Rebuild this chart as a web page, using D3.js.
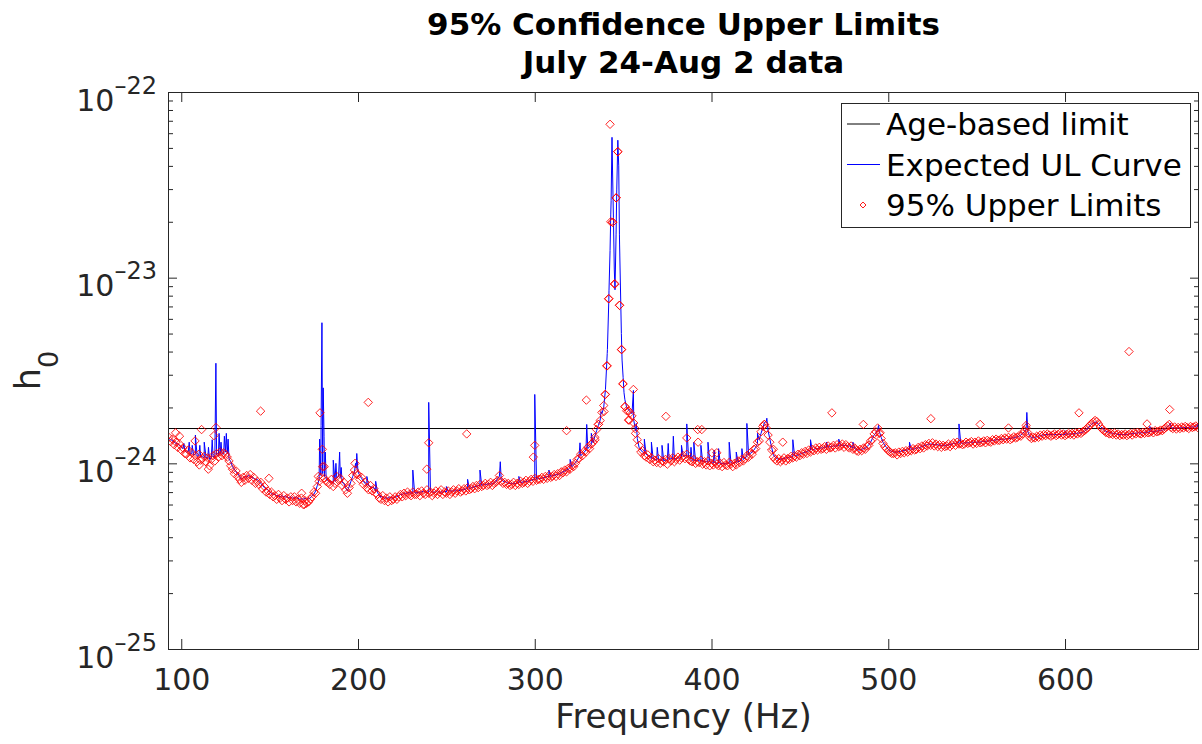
<!DOCTYPE html>
<html>
<head>
<meta charset="utf-8">
<script src="https://cdnjs.cloudflare.com/ajax/libs/d3/7.8.5/d3.min.js"></script>
<style>
  body { margin: 0; background: #fff; }
  svg { font-family: "DejaVu Sans", sans-serif; }
</style>
</head>
<body>
<div id="chart"></div>
<script>
// h0 values below are in units of 1e-24
const unit = 1e-24;
const freqStart = 93; // Hz, first bin, bins 1 Hz apart

// Expected UL curve (baseline per bin)
const expectedUL = [
  /*93*/  1.36,1.34,1.33,1.30,1.28,1.27,1.25,1.22,1.20,1.17,
  /*103*/ 1.15,1.16,1.12,1.13,1.11,1.12,1.09,1.10,1.08,1.09,
  /*113*/ 1.07,1.08,1.06,1.05,1.07,1.09,1.08,1.11,1.10,1.12,
  /*123*/ 1.13,1.12,1.15,1.13,1.06,1.02,0.96,0.93,0.90,0.88,
  /*133*/ 0.85,0.82,0.83,0.85,0.84,0.86,0.85,0.84,0.83,0.82,
  /*143*/ 0.82,0.80,0.78,0.76,0.74,0.73,0.72,0.70,0.69,0.68,
  /*153*/ 0.68,0.67,0.67,0.66,0.67,0.66,0.66,0.66,0.65,0.66,
  /*163*/ 0.65,0.65,0.66,0.65,0.64,0.645,0.64,0.65,0.64,0.645,
  /*173*/ 0.65,0.67,0.68,0.71,0.76,0.82,0.86,0.88,0.85,0.82,
  /*183*/ 0.81,0.79,0.80,0.78,0.80,0.83,0.85,0.84,0.79,0.78,
  /*193*/ 0.74,0.71,0.75,0.80,0.85,0.90,0.94,0.90,0.86,0.83,
  /*203*/ 0.80,0.78,0.76,0.76,0.75,0.74,0.74,0.71,0.70,0.67,
  /*213*/ 0.66,0.66,0.65,0.65,0.65,0.66,0.65,0.65,0.66,0.66,
  /*223*/ 0.67,0.68,0.68,0.69,0.69,0.69,0.70,0.69,0.69,0.70,
  /*233*/ 0.69,0.70,0.70,0.70,0.71,0.70,0.70,0.70,0.71,0.70,
  /*243*/ 0.70,0.70,0.71,0.70,0.70,0.70,0.71,0.70,0.71,0.71,
  /*253*/ 0.71,0.71,0.71,0.72,0.71,0.72,0.72,0.72,0.73,0.73,
  /*263*/ 0.73,0.74,0.74,0.75,0.75,0.76,0.76,0.76,0.77,0.77,
  /*273*/ 0.77,0.78,0.77,0.78,0.78,0.80,0.83,0.85,0.82,0.80,
  /*283*/ 0.80,0.79,0.78,0.78,0.78,0.78,0.78,0.78,0.79,0.79,
  /*293*/ 0.79,0.80,0.80,0.80,0.81,0.81,0.82,0.82,0.82,0.83,
  /*303*/ 0.83,0.83,0.84,0.84,0.85,0.85,0.85,0.86,0.86,0.87,
  /*313*/ 0.87,0.88,0.89,0.90,0.91,0.92,0.93,0.95,0.96,0.98,
  /*323*/ 1.01,1.04,1.08,1.10,1.12,1.15,1.18,1.20,1.23,1.26,
  /*333*/ 1.29,1.40,1.50,1.60,1.71,1.85,2.00,2.50,3.90,8.50,
  /*343*/ 22,38,11,17,55,15,5.0,2.9,2.2,2.0,
  /*353*/ 1.94,1.90,1.85,1.71,1.50,1.36,1.22,1.18,1.15,1.13,
  /*363*/ 1.12,1.10,1.08,1.06,1.06,1.05,1.04,1.05,1.04,1.04,
  /*373*/ 1.03,1.04,1.04,1.05,1.06,1.06,1.05,1.06,1.07,1.07,
  /*383*/ 1.08,1.09,1.10,1.10,1.08,1.06,1.04,1.04,1.03,1.04,
  /*393*/ 1.03,1.03,1.02,1.03,1.02,1.02,1.02,1.01,1.00,1.01,
  /*403*/ 1.00,1.00,0.99,1.00,1.00,0.99,1.00,1.00,1.01,1.00,
  /*413*/ 1.01,1.01,1.02,1.03,1.04,1.05,1.07,1.09,1.11,1.13,
  /*423*/ 1.15,1.18,1.22,1.28,1.34,1.45,1.55,1.66,1.68,1.50,
  /*433*/ 1.35,1.22,1.11,1.08,1.06,1.05,1.05,1.06,1.06,1.07,
  /*443*/ 1.07,1.08,1.08,1.09,1.10,1.10,1.11,1.12,1.13,1.14,
  /*453*/ 1.15,1.16,1.17,1.18,1.18,1.19,1.20,1.20,1.21,1.21,
  /*463*/ 1.21,1.22,1.22,1.22,1.23,1.23,1.24,1.24,1.24,1.25,
  /*473*/ 1.25,1.25,1.25,1.25,1.24,1.24,1.23,1.21,1.20,1.19,
  /*483*/ 1.18,1.18,1.19,1.20,1.21,1.23,1.26,1.30,1.36,1.42,
  /*493*/ 1.46,1.52,1.48,1.38,1.30,1.25,1.22,1.19,1.17,1.16,
  /*503*/ 1.15,1.15,1.15,1.16,1.16,1.17,1.17,1.18,1.18,1.19,
  /*513*/ 1.19,1.19,1.20,1.21,1.21,1.22,1.23,1.24,1.25,1.26,
  /*523*/ 1.27,1.27,1.27,1.26,1.26,1.26,1.25,1.25,1.25,1.25,
  /*533*/ 1.25,1.26,1.26,1.27,1.28,1.28,1.29,1.29,1.29,1.28,
  /*543*/ 1.29,1.29,1.29,1.29,1.30,1.30,1.30,1.30,1.30,1.30,
  /*553*/ 1.31,1.31,1.31,1.32,1.32,1.32,1.33,1.33,1.34,1.34,
  /*563*/ 1.34,1.35,1.35,1.35,1.36,1.36,1.36,1.37,1.37,1.38,
  /*573*/ 1.39,1.40,1.42,1.45,1.48,1.52,1.48,1.40,1.38,1.37,
  /*583*/ 1.38,1.39,1.40,1.41,1.42,1.42,1.43,1.43,1.43,1.43,
  /*593*/ 1.43,1.43,1.43,1.43,1.43,1.43,1.43,1.43,1.43,1.44,
  /*603*/ 1.44,1.44,1.44,1.45,1.45,1.46,1.46,1.47,1.49,1.52,
  /*613*/ 1.55,1.59,1.62,1.65,1.67,1.66,1.62,1.58,1.55,1.52,
  /*623*/ 1.49,1.48,1.47,1.46,1.45,1.45,1.44,1.43,1.43,1.43,
  /*633*/ 1.43,1.43,1.43,1.44,1.44,1.45,1.45,1.45,1.46,1.46,
  /*643*/ 1.46,1.46,1.47,1.47,1.47,1.48,1.48,1.48,1.49,1.49,
  /*653*/ 1.50,1.50,1.51,1.52,1.55,1.58,1.60,1.57,1.55,1.55,
  /*663*/ 1.55,1.55,1.55,1.56,1.56,1.56,1.56,1.56,1.57,1.57,
  /*673*/ 1.57,1.57,1.57,1.57
];

// narrow lines in the expected curve (off-grid bins)
const expSpikeFreq = [
  101.5,104.5,106.2,108,110.5,113,115.4,117.5,119.6,121.4,122.5,124.4,125.5,126.5,
  178.3,179.1,179.6,180.3,180.8,181.5,186,187.5,189.6,190.5,198.6,199.3,205,210,
  231,240,250,262,269,280.5,291,300,308,320,325.6,329.4,332,337.5,
  341.1,341.9,342.6,343.2,343.7,344.5,345.4,346.4,347.5,347.9,348.7,349.4,350.5,
  355.8,357.5,362,366,369.3,372,375.5,378.4,383,386,388.4,390,394,398,401.5,404,410,414,417.2,420,426,431.3,
  446,456,465,472,480,494.5,512,540,578.4,600,648,659.5,675
];
const expSpikeVal = [
  1.28,1.30,1.25,1.42,1.25,1.30,1.22,1.34,3.46,1.45,1.30,1.40,1.45,1.35,
  1.35,1.60,5.72,2.55,1.40,1.15,1.04,1.00,1.15,0.95,1.00,1.13,0.85,0.80,
  0.92,2.13,0.75,0.82,0.92,1.02,0.85,2.35,0.92,1.05,1.29,1.62,1.45,1.90,
  4.1,7.6,14,26,57,21,8.6,30,40,17,7.0,3.6,2.4,
  2.47,1.64,1.35,1.30,1.22,1.25,1.28,1.40,1.25,1.63,1.22,1.30,1.25,1.30,1.18,1.20,1.30,1.15,1.20,1.64,1.45,1.75,
  1.34,1.34,1.30,1.35,1.30,1.60,1.30,1.63,1.88,1.50,1.58,1.65,1.62
];

// 95% upper limits per bin
const upperLimits = [
  /*93*/  1.38,1.31,1.35,1.26,1.30,1.22,1.27,1.18,1.21,1.13,
  /*103*/ 1.12,1.18,1.07,1.14,1.05,1.10,1.02,1.12,1.04,1.06,
  /*113*/ 1.09,1.02,1.07,0.97,1.05,1.10,1.03,1.13,1.08,1.15,
  /*123*/ 1.10,1.14,1.12,1.08,1.03,0.97,0.93,0.88,0.91,0.85,
  /*133*/ 0.82,0.79,0.84,0.81,0.86,0.83,0.87,0.81,0.84,0.78,
  /*143*/ 0.80,0.77,0.79,0.73,0.75,0.70,0.71,0.68,0.70,0.66,
  /*153*/ 0.67,0.64,0.68,0.65,0.63,0.67,0.64,0.65,0.62,0.66,
  /*163*/ 0.63,0.66,0.62,0.64,0.61,0.65,0.60,0.63,0.61,0.62,
  /*173*/ 0.64,0.66,0.70,0.69,0.75,0.80,0.84,0.96,0.83,0.80,
  /*183*/ 0.79,0.77,0.82,0.75,0.78,0.85,0.81,0.83,0.76,0.79,
  /*193*/ 0.72,0.69,0.74,0.78,0.86,0.92,0.88,0.87,0.82,0.84,
  /*203*/ 0.77,0.79,0.74,0.72,0.76,0.71,0.73,0.69,0.68,0.65,
  /*213*/ 0.64,0.67,0.63,0.65,0.62,0.66,0.63,0.64,0.66,0.64,
  /*223*/ 0.66,0.68,0.66,0.69,0.67,0.70,0.68,0.67,0.70,0.68,
  /*233*/ 0.68,0.70,0.67,0.71,0.69,0.68,0.72,0.69,0.70,0.67,
  /*243*/ 0.69,0.71,0.68,0.70,0.72,0.68,0.70,0.69,0.71,0.68,
  /*253*/ 0.70,0.72,0.69,0.71,0.73,0.70,0.71,0.73,0.71,0.74,
  /*263*/ 0.72,0.73,0.75,0.73,0.76,0.74,0.77,0.75,0.76,0.78,
  /*273*/ 0.76,0.77,0.79,0.76,0.78,0.79,0.81,0.86,0.80,0.78,
  /*283*/ 0.79,0.77,0.78,0.76,0.77,0.79,0.76,0.78,0.77,0.80,
  /*293*/ 0.78,0.79,0.81,0.78,0.80,0.82,0.80,0.83,0.81,0.82,
  /*303*/ 0.82,0.84,0.82,0.85,0.83,0.86,0.84,0.85,0.87,0.85,
  /*313*/ 0.88,0.86,0.90,0.89,0.92,0.90,0.94,0.93,0.97,0.96,
  /*323*/ 1.00,1.05,1.06,1.12,1.10,1.16,1.15,1.22,1.20,1.27,
  /*333*/ 1.30,1.38,1.52,1.62,1.70,1.88,2.05,2.35,3.35,7.70,
  /*343*/ 20,19.9,9.25,26.9,47.7,7.1,4.1,2.68,2.02,1.92,
  /*353*/ 1.71,1.87,1.80,1.65,1.45,1.34,1.25,1.15,1.17,1.10,
  /*363*/ 1.08,1.11,1.05,1.07,1.02,1.04,1.01,1.06,1.00,1.03,
  /*373*/ 1.02,1.05,0.99,1.06,1.03,1.07,1.02,1.05,1.08,1.04,
  /*383*/ 1.07,1.10,1.06,1.12,1.05,1.03,1.02,1.05,1.00,1.02,
  /*393*/ 1.01,1.04,0.99,1.02,0.98,1.03,0.97,1.00,0.98,1.02,
  /*403*/ 0.99,0.97,1.00,0.96,1.01,0.98,0.97,1.01,0.99,0.96,
  /*413*/ 1.00,0.98,1.03,1.01,1.05,1.03,1.06,1.10,1.08,1.14,
  /*423*/ 1.12,1.19,1.20,1.30,1.32,1.48,1.58,1.62,1.55,1.42,
  /*433*/ 1.30,1.18,1.08,1.05,1.03,1.06,1.02,1.04,1.07,1.03,
  /*443*/ 1.06,1.05,1.09,1.07,1.10,1.08,1.12,1.10,1.14,1.12,
  /*453*/ 1.16,1.13,1.18,1.15,1.19,1.17,1.21,1.18,1.22,1.19,
  /*463*/ 1.20,1.23,1.19,1.24,1.21,1.22,1.25,1.21,1.26,1.23,
  /*473*/ 1.24,1.27,1.22,1.26,1.23,1.21,1.24,1.19,1.21,1.17,
  /*483*/ 1.16,1.19,1.17,1.21,1.19,1.24,1.25,1.32,1.34,1.44,
  /*493*/ 1.48,1.55,1.45,1.36,1.28,1.23,1.20,1.17,1.15,1.13,
  /*503*/ 1.13,1.14,1.11,1.15,1.13,1.16,1.14,1.17,1.15,1.18,
  /*513*/ 1.17,1.20,1.18,1.19,1.22,1.20,1.24,1.21,1.26,1.24,
  /*523*/ 1.28,1.25,1.29,1.24,1.27,1.23,1.26,1.22,1.25,1.23,
  /*533*/ 1.24,1.27,1.23,1.26,1.29,1.25,1.30,1.27,1.28,1.26,
  /*543*/ 1.27,1.30,1.28,1.29,1.31,1.27,1.30,1.28,1.32,1.29,
  /*553*/ 1.30,1.32,1.29,1.33,1.31,1.30,1.34,1.32,1.35,1.33,
  /*563*/ 1.33,1.36,1.34,1.37,1.35,1.38,1.34,1.36,1.39,1.37,
  /*573*/ 1.38,1.41,1.40,1.44,1.50,1.55,1.46,1.39,1.36,1.38,
  /*583*/ 1.37,1.40,1.38,1.42,1.40,1.43,1.41,1.44,1.42,1.40,
  /*593*/ 1.42,1.44,1.41,1.43,1.45,1.42,1.44,1.41,1.43,1.45,
  /*603*/ 1.43,1.45,1.42,1.46,1.44,1.47,1.45,1.48,1.50,1.53,
  /*613*/ 1.56,1.60,1.64,1.67,1.70,1.68,1.63,1.57,1.53,1.50,
  /*623*/ 1.47,1.46,1.44,1.45,1.43,1.46,1.42,1.44,1.41,1.43,
  /*633*/ 1.42,1.44,1.41,1.43,1.45,1.42,1.46,1.44,1.47,1.45,
  /*643*/ 1.44,1.47,1.45,1.48,1.46,1.47,1.49,1.46,1.50,1.48,
  /*653*/ 1.49,1.51,1.50,1.53,1.56,1.59,1.62,1.56,1.54,1.57,
  /*663*/ 1.53,1.56,1.54,1.57,1.55,1.58,1.56,1.54,1.58,1.56,
  /*673*/ 1.57,1.59,1.56,1.58
];

// upper limits at other bins (outliers and peak)
const ulExtraFreq = [
  96.8,99,107.8,110.2,111.5,115.3,118.5,119.6,144.9,149.6,
  168.1,169.6,177.5,178.5,179.8,180.9,198.3,205.8,238.9,240,
  261.5,299.2,300,318,329.2,334.1,336,339.2,339.8,340.7,
  341.7,342.6,344.1,345.4,346.1,347.0,347.9,349.2,349.8,351.1,
  353.0,353.5,355.8,356.8,374.2,386,392.2,392.4,394.5,400.2,
  403,429.8,435,440.3,468.1,485.9,495.4,524.1,552,568,
  578,607.9,636.2,646.4,659.2
];
const ulExtraVal = [
  1.46,1.40,1.32,0.98,1.52,0.93,1.41,1.56,1.91,0.83,
  0.69,0.60,0.85,1.87,1.19,0.96,1.00,2.13,0.93,1.29,
  1.44,1.08,1.25,1.50,2.19,1.34,1.62,1.90,2.35,3.35,
  7.7,67,19.9,9.25,26.9,47.7,7.1,4.1,2.68,2.02,
  1.92,1.71,2.50,1.54,1.79,1.37,1.52,1.30,1.52,1.14,
  1.14,1.62,1.19,1.30,1.87,1.62,1.46,1.74,1.62,1.55,
  1.60,1.87,4.0,1.63,1.95
];

const ageLimit = 1.54;
const xTicks = [100, 200, 300, 400, 500, 600];
const yExponents = [-25, -24, -23, -22];
const titleLines = ["95% Confidence Upper Limits", "July 24-Aug 2 data"];
const legendLabels = ["Age-based limit", "Expected UL Curve", "95% Upper Limits"];

// ---- layout ----
const W = 1202, H = 744;
const plot = { left: 168, right: 1199, top: 92, bottom: 649 };
const axisColor = "#262626";

const svg = d3.select("#chart").append("svg")
    .attr("width", W)
    .attr("height", H);

const x = d3.scaleLinear().domain([92.5, 675.8]).range([plot.left, plot.right]);
const y = d3.scaleLog().domain([1e-25, 1e-22]).range([plot.bottom, plot.top]);

svg.append("clipPath").attr("id", "clip")
    .append("rect")
    .attr("x", plot.left).attr("y", plot.top)
    .attr("width", plot.right - plot.left)
    .attr("height", plot.bottom - plot.top);

const plotG = svg.append("g").attr("clip-path", "url(#clip)");

// age-based limit
plotG.append("line")
    .attr("x1", plot.left).attr("x2", plot.right)
    .attr("y1", y(ageLimit * unit)).attr("y2", y(ageLimit * unit))
    .attr("stroke", "#000")
    .attr("stroke-width", 1);

// expected UL curve
const expPts = expectedUL.map((v, i) => ({ f: freqStart + i, v }))
    .concat(expSpikeFreq.map((f, i) => ({ f, v: expSpikeVal[i] })))
    .sort((a, b) => a.f - b.f);

const line = d3.line()
    .x(d => x(d.f))
    .y(d => y(d.v * unit));

plotG.append("path")
    .datum(expPts)
    .attr("d", line)
    .attr("fill", "none")
    .attr("stroke", "#0000ff")
    .attr("stroke-width", 1);

// 95% upper limits
const ulPts = upperLimits.map((v, i) => ({ f: freqStart + i, v }))
    .concat(ulExtraFreq.map((f, i) => ({ f, v: ulExtraVal[i] })));

const diamond = "M0,-4.2L4.2,0L0,4.2L-4.2,0Z";

plotG.selectAll(".ul")
    .data(ulPts)
    .enter().append("path")
    .attr("class", "ul")
    .attr("d", diamond)
    .attr("transform", d => `translate(${x(d.f)},${y(d.v * unit)})`)
    .attr("fill", "none")
    .attr("stroke", "#ff0000")
    .attr("stroke-opacity", 0.85)
    .attr("stroke-width", 1);

// ---- axes ----
function tidy(g) {
    g.select(".domain").remove();
    g.selectAll(".tick line").attr("stroke", axisColor);
}

svg.append("g")
    .attr("transform", `translate(0,${plot.bottom})`)
    .call(d3.axisBottom(x).tickValues(xTicks).tickSize(-10).tickSizeOuter(0).tickPadding(20))
    .call(tidy)
    .call(g => g.selectAll(".tick text")
        .attr("fill", axisColor)
        .attr("font-size", 30)
        .attr("font-family", "DejaVu Sans, sans-serif"));

svg.append("g")
    .attr("transform", `translate(0,${plot.top})`)
    .call(d3.axisTop(x).tickValues(xTicks).tickSize(-10).tickSizeOuter(0).tickFormat(""))
    .call(tidy);

const majorY = yExponents.map(e => Math.pow(10, e));
const minorY = [];
yExponents.slice(0, -1).forEach(e => {
    for (let m = 2; m <= 9; m++) minorY.push(m * Math.pow(10, e));
});

const yLeft = svg.append("g")
    .attr("transform", `translate(${plot.left},0)`)
    .call(d3.axisLeft(y).tickValues(majorY).tickSize(-9).tickSizeOuter(0).tickFormat(""))
    .call(tidy);

svg.append("g")
    .attr("transform", `translate(${plot.left},0)`)
    .call(d3.axisLeft(y).tickValues(minorY).tickSize(-5).tickSizeOuter(0).tickFormat(""))
    .call(tidy);

svg.append("g")
    .attr("transform", `translate(${plot.right},0)`)
    .call(d3.axisRight(y).tickValues(majorY).tickSize(-9).tickSizeOuter(0).tickFormat(""))
    .call(tidy);

svg.append("g")
    .attr("transform", `translate(${plot.right},0)`)
    .call(d3.axisRight(y).tickValues(minorY).tickSize(-5).tickSizeOuter(0).tickFormat(""))
    .call(tidy);

// y tick labels as 10^n
yLeft.selectAll(".tick text").remove();
yLeft.selectAll(".tick").each(function (d) {
    const t = d3.select(this).append("text")
        .attr("x", -11)
        .attr("y", 18)
        .attr("text-anchor", "end")
        .attr("fill", axisColor)
        .attr("font-family", "DejaVu Sans, sans-serif");
    t.append("tspan").attr("font-size", 30).text("10");
    t.append("tspan").attr("font-size", 24).attr("dy", -17)
        .text("\u2013" + Math.abs(Math.round(Math.log10(d))));
});

// frame
svg.append("rect")
    .attr("x", plot.left + 0.5).attr("y", plot.top + 0.5)
    .attr("width", plot.right - plot.left - 1)
    .attr("height", plot.bottom - plot.top)
    .attr("fill", "none")
    .attr("stroke", axisColor)
    .attr("stroke-width", 1);

// ---- labels ----
svg.append("text")
    .attr("x", (plot.left + plot.right) / 2)
    .attr("y", 728)
    .attr("text-anchor", "middle")
    .attr("font-size", 34)
    .attr("fill", axisColor)
    .text("Frequency (Hz)");

const yl = svg.append("text")
    .attr("transform", `translate(40,${(plot.top + plot.bottom) / 2}) rotate(-90)`)
    .attr("text-anchor", "middle")
    .attr("fill", axisColor);
yl.append("tspan").attr("font-size", 35).text("h");
yl.append("tspan").attr("font-size", 27).attr("dy", 18).text("0");

titleLines.forEach((s, i) => {
    svg.append("text")
        .attr("x", (plot.left + plot.right) / 2)
        .attr("y", 35 + i * 38)
        .attr("text-anchor", "middle")
        .attr("font-size", 31)
        .attr("font-weight", "bold")
        .attr("fill", "#000")
        .text(s);
});

// ---- legend ----
const lg = svg.append("g");
lg.append("rect")
    .attr("x", 841.5).attr("y", 103.5)
    .attr("width", 349).attr("height", 124)
    .attr("fill", "#fff")
    .attr("stroke", axisColor)
    .attr("stroke-width", 1);

const legendColors = ["#000", "#0000ff", "#ff0000"];
legendLabels.forEach((label, i) => {
    const cy = 124 + i * 40.5;
    if (i < 2) {
        lg.append("line")
            .attr("x1", 847).attr("x2", 880)
            .attr("y1", cy).attr("y2", cy)
            .attr("stroke", legendColors[i])
            .attr("stroke-width", 1);
    } else {
        lg.append("path")
            .attr("d", "M0,-3L3,0L0,3L-3,0Z")
            .attr("transform", `translate(863,${cy})`)
            .attr("fill", "none")
            .attr("stroke", legendColors[i])
            .attr("stroke-width", 0.9);
    }
    lg.append("text")
        .attr("x", 886)
        .attr("y", cy + 11)
        .attr("font-size", 31)
        .attr("fill", "#000")
        .text(label);
});
</script>
</body>
</html>
